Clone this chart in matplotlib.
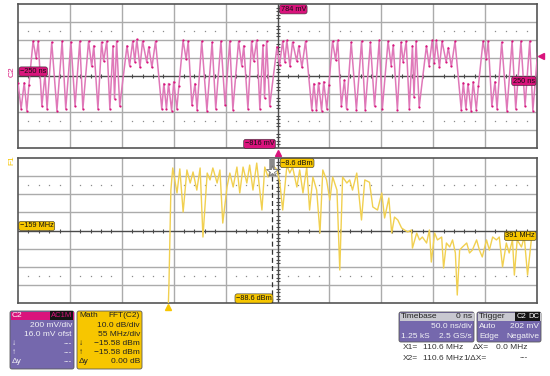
import matplotlib
matplotlib.use("Agg")
import matplotlib.pyplot as plt
import matplotlib.transforms as mtrans
from matplotlib.patches import FancyBboxPatch, Rectangle

plt.rcParams['font.family'] = ['Liberation Sans', 'DejaVu Sans']

# C2 trace, turning points (ns, mV)
wave_t_ns = [-252, -250, -247, -244, -241.5, -239.5,
             -235.5, -232.5, -230.5, -227, -224, -222, -217.5, -212.5, -207.5, -204,
             -199, -195, -190.5, -187.5, -182, -179, -177, -173, -169.5, -167.5,
             -164.5, -161.5, -158.5, -157, -155, -152, -145, -142.5, -139.5, -137.5,
             -135.5, -132.5, -130, -126, -124, -121, -117.5, -111.5, -109.5, -107,
             -105, -102, -100, -97, -95,
             -91, -88, -86, -82.5, -79.5, -77.5, -73, -68, -63, -59.5,
             -54.5, -50.5, -46, -43, -37.5, -34.5, -32.5, -28.5, -25, -23,
             -20, -17, -14, -12.5, -10.5, -7.5, -0.5, 2, 5, 7,
             9, 12, 14.5, 18.5, 20.5, 23.5, 27, 33, 35, 37.5,
             39.5, 42.5, 44.5, 47.5, 49.5,
             53, 56, 58, 61.5, 64.5, 66.5, 71, 76, 81, 84.5,
             89.5, 93.5, 98, 101, 106.5, 109.5, 111.5, 115.5, 119, 121,
             124, 127, 130, 131.5, 133.5, 136.5, 143.5, 146, 149, 151,
             153, 156, 158.5, 162.5, 164.5, 167.5, 171, 177, 179, 181.5,
             183.5, 186.5, 188.5, 191.5, 193.5,
             198, 201, 203, 206.5, 209.5, 211.5, 216, 221, 226, 229.5,
             234.5, 238.5, 243, 246, 251.5]
wave_mv = [-380, -90, -380, -90, -400, -120,
           370, 180, 370, -350, 0, -380, 360, -400, 370, -380,
           360, -350, 370, -380, 370, 90, 320, -380, 360, 150,
           370, -380, 320, -270, 370, -350, 320, 100, 370, 140,
           390, 80, 370, 140, 310, 80, 370, -380, -100, -380,
           -100, -400, -80, -380, -130,
           380, 170, 370, -340, -100, -390, 370, -400, 360, -380,
           370, -340, 370, -390, 370, 100, 320, -380, 370, 150,
           380, -380, 330, -260, 370, -350, 310, 110, 370, 140,
           380, 90, 360, 150, 320, 80, 370, -390, -100, -390,
           -90, -400, -80, -380, -120,
           370, 160, 380, -350, -60, -380, 360, -390, 370, -390,
           360, -350, 380, -380, 370, 100, 330, -390, 360, 140,
           370, -380, 320, -250, 370, -360, 320, 100, 380, 130,
           380, 80, 370, 140, 300, 90, 370, -390, -90, -380,
           -100, -400, -80, -390, -130,
           370, 170, 370, -350, -80, -380, 360, -400, 370, -380,
           370, -350, 370, -400, 370]

# FFT(C2) magnitude (MHz, dBm)
fft_mhz = [0, 1, 3, 5, 9.5, 12.5, 16, 20, 23.5, 26.5,
           30.5, 34, 37, 41.5, 44.5, 47.5, 52, 55, 58, 62.5,
           65.5, 69, 73, 76, 79.5, 83.5, 86.5, 90, 94, 99.5,
           102.5, 106, 111, 115.5, 118.5, 121.5, 126, 129, 132, 136.5,
           139.5, 143, 147, 150, 153.5, 157.5, 161, 164, 168, 171.5,
           174.5, 179, 182, 185, 189.5, 192.5, 195.5, 200, 205, 208.5,
           213.5, 217, 222, 226.5, 229.5, 234, 237, 240, 243.5, 247.5,
           250.5, 254, 258, 259, 263.5, 266.5, 269.5, 274, 277, 279,
           282.5, 285.5, 290, 292, 295, 298.5, 301.5, 304.5, 306.5, 309,
           312, 316.5, 319.5, 322.5, 327, 330, 333, 337.5, 340.5, 344,
           348, 351, 354.5, 358.5, 361.5, 365, 367, 370, 374.5, 377.5,
           381, 385]
fft_dbm = [-95, -77.6, -26.3, -14.1, -27.9, -14.6, -38.4, -15.2, -22.4, -16.3,
           -26.3, -14.1, -52.2, -16.9, -20.7, -14.1, -22.4, -15.2, -44.5, -24.6,
           -16.9, -24.6, -13.6, -27.9, -13.6, -22.4, -12.5, -26.3, -11.4, -37.3,
           -13.6, -19.1, -12.5, -15.2, -22.4, -37.3, -12.5, -16.9, -13.6, -24.6,
           -15.2, -27.9, -13.6, -37.3, -19.1, -26.3, -50.0, -15.2, -20.7, -31.8,
           -19.1, -26.3, -70.4, -19.1, -22.4, -20.7, -26.3, -16.9, -42.8, -20.7,
           -22.0, -35.6, -37.3, -27.9, -41.7, -30.7, -50.0, -41.2, -42.8, -47.2,
           -48.3, -49.4, -48.3, -58.3, -50.0, -53.8, -52.2, -55.5, -48.3, -66.0,
           -50.0, -53.8, -52.2, -69.3, -55.5, -57.7, -53.8, -61.0, -84.2, -59.4,
           -57.7, -55.5, -61.0, -59.4, -53.8, -59.4, -63.2, -53.8, -59.4, -52.2,
           -53.8, -52.2, -68.7, -55.5, -61.0, -53.8, -73.2, -53.8, -57.7, -52.2,
           -73.2, -53.8]

# scope settings
t_left, t_right = -250, 250
v_bottom, v_top = -816, 784
f_left, f_right = -159, 391
db_bottom, db_top = -88.6, -8.6
trig_mv = 202
cursor_mhz = 110.6
cursor_dbm = -15.58

PINK = '#d9147c'
TRACE_PINK = '#df78b8'
YELLOW = '#f7c600'
TRACE_YEL = '#f1d050'
PURPLE = '#7568ad'
HEAD = '#c8c8d0'
GRID = '#ababab'
AXIS = '#4a4a4a'

W, H = 550, 376
fig = plt.figure(figsize=(W / 100, H / 100), dpi=100)


def px_axes(x0, y0, x1, y1):
    return fig.add_axes([x0 / W, 1 - y1 / H, (x1 - x0) / W, (y1 - y0) / H])


def scope_grid(ax, xlo, xhi, ylo, yhi):
    ax.set_xlim(xlo, xhi)
    ax.set_ylim(ylo, yhi)
    dx = (xhi - xlo) / 10
    dy = (yhi - ylo) / 8
    for i in range(1, 10):
        if i != 5:
            ax.axvline(xlo + i * dx, color=GRID, lw=1.0, zorder=1)
    for j in range(1, 8):
        if j != 4:
            ax.axhline(ylo + j * dy, color=GRID, lw=1.0, zorder=1)
    xc = xlo + 5 * dx
    yc = ylo + 4 * dy
    ax.axvline(xc, color=AXIS, lw=1.0, zorder=1)
    ax.axhline(yc, color=AXIS, lw=1.0, zorder=1)
    tx = [xlo + k * dx / 5 for k in range(1, 50) if k % 5]
    ty = [ylo + k * dy / 5 for k in range(1, 40) if k % 5]
    ax.plot(tx, [yc] * len(tx), ls='none', marker='|', ms=3.5, mew=0.8, color=AXIS, zorder=1)
    ax.plot([xc] * len(ty), ty, ls='none', marker='_', ms=3.5, mew=0.8, color=AXIS, zorder=1)
    for yy in (yc + 2.5 * dy, yc - 2.5 * dy):
        ax.plot(tx, [yy] * len(tx), ls='none', marker='s', ms=0.9, mew=0, color='#8c8c8c', zorder=1)
    ax.set_xticks([])
    ax.set_yticks([])
    for s in ax.spines.values():
        s.set_color('#555555')
        s.set_linewidth(1.2)


def tag(ax, x, y, s, fc, ha):
    ax.text(x, y, s, ha=ha, va='center', fontsize=5.3, color='#111111', zorder=6,
            bbox=dict(boxstyle='round,pad=0.15,rounding_size=0.3', fc=fc, ec='#333333', lw=0.4))


# ---- top panel: C2
ax1 = px_axes(18, 4, 537, 148)
scope_grid(ax1, t_left, t_right, v_bottom, v_top)
ax1.plot(wave_t_ns, wave_mv, color=TRACE_PINK, lw=1.1, zorder=3)
ax1.plot(wave_t_ns, wave_mv, ls='none', marker='o', ms=1.6, mew=0, color=PINK, zorder=4)
tag(ax1, 3, 725, '784 mV', PINK, 'left')
tag(ax1, -3, -770, '\u2212816 mV', PINK, 'right')
tag(ax1, -248, 34, '\u2212250 ns', PINK, 'left')
tag(ax1, 248, -72, '250 ns', PINK, 'right')
tr1 = mtrans.blended_transform_factory(ax1.transAxes, ax1.transData)
ax1.plot([1.008], [trig_mv], transform=tr1, marker='<', ms=4, color=PINK, clip_on=False)
tr1b = mtrans.blended_transform_factory(ax1.transData, ax1.transAxes)
ax1.plot([0], [-0.035], transform=tr1b, marker='^', ms=4, color=PINK, clip_on=False)

# ---- bottom panel: FFT(C2)
ax2 = px_axes(18, 158, 537, 303)
scope_grid(ax2, f_left, f_right, db_bottom, db_top)
ax2.plot(fft_mhz, fft_dbm, color=TRACE_YEL, lw=1.0, zorder=3)
ax2.axvline(cursor_mhz, color='#333333', lw=0.9, ls=(0, (4, 2.5)), zorder=4)
ax2.plot([cursor_mhz, cursor_mhz], [db_top, cursor_dbm - 3], color='#8a8a8a', lw=4, zorder=4,
         solid_capstyle='butt')
ax2.plot([cursor_mhz], [cursor_dbm], marker='*', ms=9, mfc='white', mec='#777777', mew=0.6, zorder=5)
tag(ax2, 120, -11.4, '\u22128.6 dBm', YELLOW, 'left')
tag(ax2, 110, -86.1, '\u221288.6 dBm', YELLOW, 'right')
tag(ax2, -157, -46.1, '\u2212159 MHz', YELLOW, 'left')
tag(ax2, 389, -51.6, '391 MHz', YELLOW, 'right')
tr2 = mtrans.blended_transform_factory(ax2.transData, ax2.transAxes)
ax2.plot([0], [-0.03], transform=tr2, marker='^', ms=4, color=YELLOW, clip_on=False)

# ---- readouts
ov = fig.add_axes([0, 0, 1, 1])
ov.set_xlim(0, W)
ov.set_ylim(H, 0)
ov.axis('off')
ov.patch.set_alpha(0)

ov.text(12, 72, 'C2', rotation=90, fontsize=6, color=PINK, ha='center', va='center')
ov.text(12, 160, 'F1', rotation=90, fontsize=6, color=YELLOW, ha='center', va='center')

FS = 6
LIGHT = '#f2f2f6'


def panel(x, y, w, h, fc):
    ov.add_patch(FancyBboxPatch((x, y), w, h, boxstyle='round,pad=0,rounding_size=2',
                                fc=fc, ec='#5a5a5a', lw=0.6))


# C2 box
panel(10, 311, 64, 58, PURPLE)
ov.add_patch(Rectangle((10.5, 311.5), 63, 8, fc=PINK, ec='none'))
ov.text(12, 315.5, 'C2', fontsize=FS, color='white', va='center')
ov.text(72, 315.5, 'AC1M', fontsize=FS - 0.5, color=PINK, va='center', ha='right',
        bbox=dict(boxstyle='square,pad=0.1', fc='#151515', ec='none'))
c2_lines = [('', '200 mV/div'), ('', '16.0 mV ofst'), ('\u2193', '---'), ('\u2191', '---'), ('\u0394y', '---')]
for k, (l, r) in enumerate(c2_lines):
    yy = 325.5 + 9 * k
    ov.text(12, yy, l, fontsize=FS, color=LIGHT, va='center')
    ov.text(72, yy, r, fontsize=FS, color=LIGHT, va='center', ha='right')

# Math box
panel(77, 311, 65, 58, YELLOW)
ov.text(79, 315.5, 'Math', fontsize=FS, color='#222222', va='center')
ov.text(140, 315.5, 'FFT(C2)', fontsize=FS, color='#222222', va='center', ha='right')
math_lines = [('', '10.0 dB/div'), ('', '55 MHz/div'), ('\u2193', '\u221215.58 dBm'),
              ('\u2191', '\u221215.58 dBm'), ('\u0394y', '0.00 dB')]
for k, (l, r) in enumerate(math_lines):
    yy = 325.5 + 9 * k
    ov.text(79, yy, l, fontsize=FS, color='#222222', va='center')
    ov.text(140, yy, r, fontsize=FS, color='#222222', va='center', ha='right')

# Timebase box
panel(399, 312, 75, 30, PURPLE)
ov.add_patch(Rectangle((399.5, 312.5), 74, 8.5, fc=HEAD, ec='none'))
ov.text(401, 316.5, 'Timebase', fontsize=FS, color='#222222', va='center')
ov.text(472, 316.5, '0 ns', fontsize=FS, color='#222222', va='center', ha='right')
ov.text(472, 327, '50.0 ns/div', fontsize=FS, color=LIGHT, va='center', ha='right')
ov.text(401, 336, '1.25 kS', fontsize=FS, color=LIGHT, va='center')
ov.text(472, 336, '2.5 GS/s', fontsize=FS, color=LIGHT, va='center', ha='right')

# Trigger box
panel(477, 312, 64, 30, PURPLE)
ov.add_patch(Rectangle((477.5, 312.5), 63, 8.5, fc=HEAD, ec='none'))
ov.text(479, 316.5, 'Trigger', fontsize=FS, color='#222222', va='center')
ov.text(526, 316.5, 'C2', fontsize=FS - 0.5, color='white', va='center', ha='right',
        bbox=dict(boxstyle='square,pad=0.1', fc='#151515', ec='none'))
ov.text(539, 316.5, 'DC', fontsize=FS - 0.5, color='white', va='center', ha='right',
        bbox=dict(boxstyle='square,pad=0.1', fc='#151515', ec='none'))
ov.text(479, 327, 'Auto', fontsize=FS, color=LIGHT, va='center')
ov.text(539, 327, '202 mV', fontsize=FS, color=LIGHT, va='center', ha='right')
ov.text(479, 336, 'Edge', fontsize=FS, color=LIGHT, va='center')
ov.text(539, 336, 'Negative', fontsize=FS, color=LIGHT, va='center', ha='right')

# cursor readout
CUR = '#333333'
ov.text(403, 347.5, 'X1=', fontsize=FS, color=CUR, va='center')
ov.text(423, 347.5, '110.6 MHz', fontsize=FS, color=CUR, va='center')
ov.text(473, 347.5, '\u0394X=', fontsize=FS, color=CUR, va='center')
ov.text(496, 347.5, '0.0 MHz', fontsize=FS, color=CUR, va='center')
ov.text(403, 358, 'X2=', fontsize=FS, color=CUR, va='center')
ov.text(423, 358, '110.6 MHz', fontsize=FS, color=CUR, va='center')
ov.text(463, 358, '1/\u0394X=', fontsize=FS, color=CUR, va='center')
ov.text(520, 358, '---', fontsize=FS, color=CUR, va='center')

fig.savefig('out.png', dpi=100)
